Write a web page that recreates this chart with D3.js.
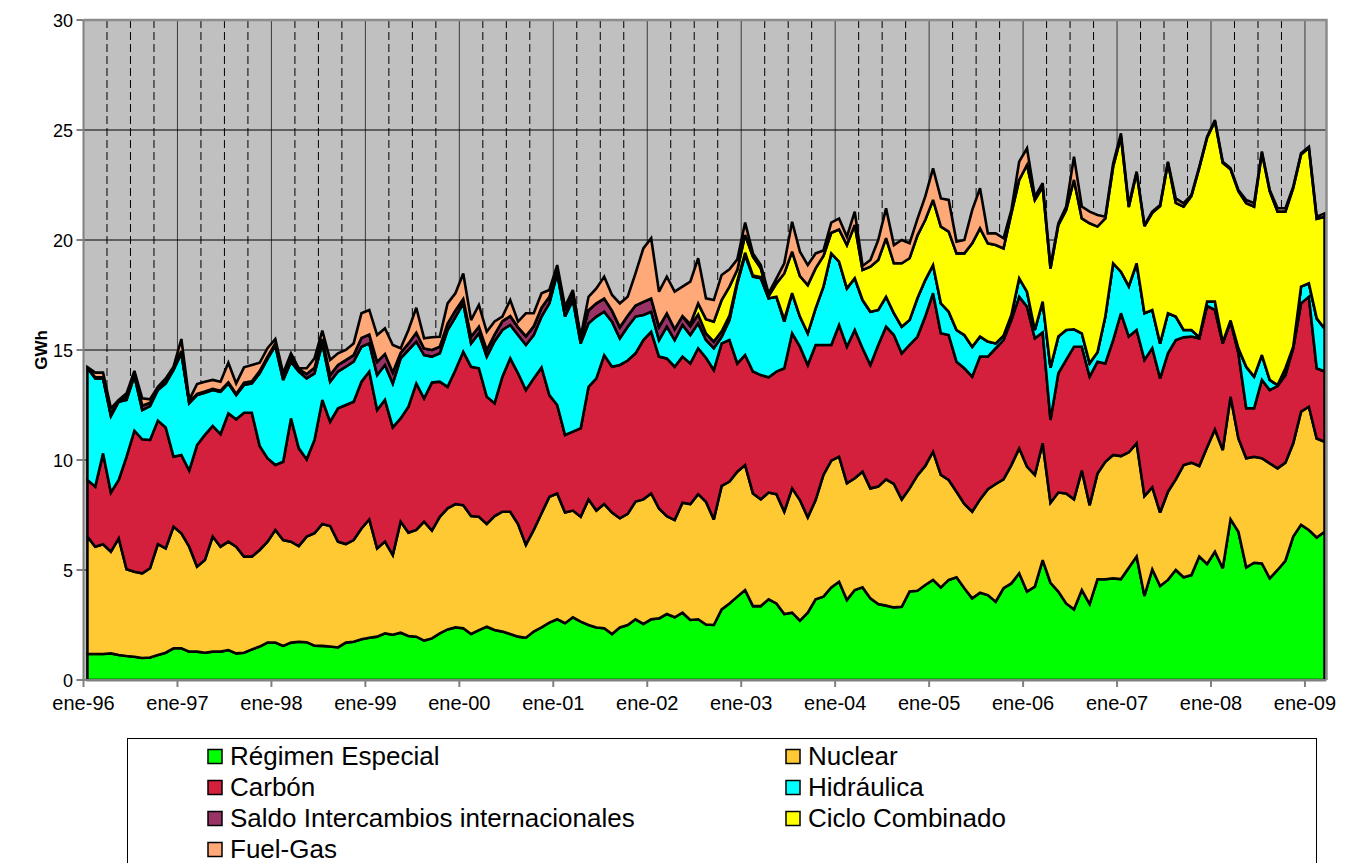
<!DOCTYPE html>
<html><head><meta charset="utf-8">
<script src="https://cdn.jsdelivr.net/npm/d3@7"></script>
<style>
body{margin:0;background:#fff}
svg{display:block}
text{font-family:"Liberation Sans",Arial,sans-serif;fill:#000}
</style>
</head><body>
<svg id="c" width="1345" height="863"></svg>
<script>
// ---------------- DATA (GWh, monthly Jan-1996 .. Mar-2009) ----------------
const tickLabels=["ene-96","ene-97","ene-98","ene-99","ene-00","ene-01","ene-02","ene-03","ene-04","ene-05","ene-06","ene-07","ene-08","ene-09"];
const yTicks=[0,5,10,15,20,25,30];
const seriesNames=["Régimen Especial","Nuclear","Carbón","Hidráulica","Saldo Intercambios internacionales","Ciclo Combinado","Fuel-Gas"];
const seriesColors=["#00ff00","#ffc933","#d41f3d","#00ffff","#993366","#ffff00","#ffa878"];

const regimenEspecial=[1.18,1.18,1.18,1.21,1.14,1.09,1.06,1.0,1.02,1.14,1.24,1.44,1.44,
1.29,1.29,1.24,1.29,1.29,1.36,1.21,1.24,1.39,1.52,1.7,1.7,1.55,
1.7,1.74,1.72,1.56,1.55,1.52,1.48,1.7,1.74,1.85,1.92,1.97,2.12,2.06,2.15,2.0,1.97,1.79,1.89,2.12,2.3,2.39,2.35,2.09,2.27,2.42,2.27,
2.2,2.09,1.97,1.92,2.2,2.39,2.61,2.76,2.58,2.85,2.65,2.5,2.39,2.35,2.09,2.39,2.5,2.76,2.55,2.76,2.8,3.0,2.85,3.06,2.73,2.76,2.52,
2.5,3.21,3.48,3.79,4.09,3.36,3.36,3.67,3.48,3.0,3.06,2.7,3.06,3.67,3.79,4.21,4.47,3.64,4.09,4.21,3.71,3.45,3.38,3.3,3.33,4.02,
4.06,4.32,4.55,4.21,4.55,4.67,4.17,3.71,3.97,3.86,3.56,4.17,4.39,4.85,4.02,4.24,5.45,4.42,4.02,3.48,3.21,4.09,3.45,4.58,4.58,4.62,4.59,
5.1,5.61,3.82,5.03,4.27,4.55,5.0,4.67,4.77,5.61,5.27,5.83,5.08,7.3,6.74,5.12,5.33,5.3,4.62,5.0,5.42,6.52,7.05,6.82,6.48,6.74];

const nuclear=[5.34,4.88,4.99,4.62,5.3,3.94,3.86,3.85,4.06,5.04,4.74,5.53,5.23,
4.77,3.86,4.21,5.23,4.77,4.93,4.85,4.37,4.22,4.39,4.59,5.12,4.81,
4.59,4.35,4.8,5.11,5.54,5.48,4.81,4.48,4.62,5.04,5.38,4.01,4.17,3.62,5.05,4.7,4.85,5.41,4.9,5.3,5.5,5.61,5.6,5.36,5.15,4.67,5.18,
5.45,5.56,5.12,4.22,4.62,5.19,5.72,5.72,5.03,4.85,4.77,5.71,5.31,5.65,5.52,4.96,5.05,5.35,5.66,5.72,5.0,4.45,4.42,5.0,5.27,5.69,5.58,
4.8,5.61,5.54,5.68,5.68,5.12,4.85,4.85,4.97,4.65,5.65,5.48,4.33,4.51,5.53,5.76,5.68,5.3,5.08,5.26,5.0,5.34,5.74,5.61,4.88,4.69,
5.24,5.41,5.83,5.11,4.54,3.89,3.83,3.94,4.24,4.81,5.35,4.95,5.38,5.68,5.68,5.08,5.31,3.64,4.5,5.0,5.0,5.43,4.5,4.81,5.34,5.61,5.59,
5.25,5.15,4.54,3.73,3.34,4.01,4.12,5.1,5.11,4.12,5.31,5.56,5.37,5.58,4.24,4.96,4.82,4.78,5.23,4.62,4.46,4.24,5.15,5.6,4.5,4.09];

const carbon=[2.57,2.73,4.13,2.69,2.65,5.12,6.41,6.09,5.83,5.61,5.5,3.18,3.56,
3.46,5.53,5.69,5.03,5.12,5.83,5.79,6.54,6.54,4.73,3.79,2.95,3.56,
5.6,4.44,3.51,4.24,5.64,4.74,6.06,6.32,6.29,6.67,6.72,6.29,6.44,5.8,4.69,5.72,6.66,5.6,6.73,6.14,5.53,6.09,6.97,6.79,6.75,5.79,5.13,
6.14,6.97,6.85,7.04,6.89,6.63,4.62,4.02,3.53,3.59,4.02,5.12,6.01,6.77,6.63,6.97,6.97,6.74,7.24,7.35,6.9,7.17,6.97,6.64,6.39,6.63,6.55,
6.79,6.48,6.43,4.92,5.0,5.54,5.65,5.24,5.57,6.52,7.05,6.97,6.93,7.05,5.91,5.26,5.99,6.21,6.74,5.61,5.61,6.44,6.94,6.77,6.64,6.52,
6.3,6.79,7.2,6.44,6.59,5.91,6.17,6.14,6.49,6.03,6.17,6.33,6.59,6.89,7.27,6.21,5.04,3.76,5.42,6.07,6.94,5.63,5.84,5.08,4.47,5.22,6.49,
5.26,5.15,6.19,6.32,6.1,6.29,6.33,5.81,5.73,5.8,6.42,5.43,4.85,3.41,3.87,2.27,2.2,3.56,3.33,3.74,3.98,4.32,4.92,5.0,3.19,3.19];

const hidraulica=[5.1,4.92,3.41,3.48,3.56,2.58,2.49,1.33,1.54,1.39,2.0,3.94,4.62,
3.06,2.27,1.92,1.63,1.92,1.36,1.1,1.26,1.33,3.3,4.52,5.43,3.72,
2.58,3.49,3.68,3.03,2.57,1.82,1.67,1.74,1.82,1.59,1.28,1.59,1.59,2.0,2.73,2.58,1.9,1.97,1.18,1.29,2.57,2.41,2.2,1.06,1.59,1.82,2.82,
2.12,1.52,1.74,2.05,1.97,2.31,4.17,5.98,5.38,5.98,3.86,2.88,2.81,1.97,2.05,1.21,1.54,1.67,1.14,0.91,0.75,1.44,1.21,1.44,1.29,1.13,0.8,
0.99,0.3,0.91,3.64,4.55,4.31,4.4,3.59,3.4,2.12,1.82,1.37,1.44,1.66,2.65,4.16,2.88,2.65,2.35,2.19,2.42,1.59,1.36,0.99,1.21,1.13,
1.75,1.66,1.28,1.36,1.06,1.44,1.51,1.36,0.91,0.68,0.22,0.2,0.23,0.84,0.68,0.38,1.4,2.38,1.67,1.36,0.79,0.61,0.61,0.43,2.13,3.49,1.89,
2.29,3.03,2.12,1.74,1.59,1.82,1.07,0.33,0.3,0.05,0.2,0.38,0.05,0.05,0.23,1.89,1.44,1.13,0.46,0.05,0.31,0.07,0.76,0.61,2.27,1.96];

const saldoIntercambios=[0,0.05,0.05,0.1,0.05,0.15,0.15,0.2,0.15,0.1,0.1,0.1,0.1,
0.05,0.05,0.05,0.05,0.05,0.05,0.05,0.1,0.1,0.1,0.1,0.1,0.15,
0.2,0.1,0.2,0.25,0.2,0.3,0.3,0.3,0.3,0.4,0.4,0.6,0.5,0.5,0.25,0.3,0.4,0.3,0.3,0.3,0.3,0.3,0.2,0.3,0.3,0.3,0.3,
0.4,0.4,0.35,0.4,0.4,0.4,0.3,0.2,0.3,0.3,0.2,0.6,0.6,0.6,0.5,0.5,0.5,0.5,0.6,0.6,0.6,0.6,0.5,0.4,0.4,0.4,0.3,
0.3,0.25,0.2,0.1,0.1,0.05,0.05,0,0,0.1,0,0,0,0,0,0,0,0,0,0,0,0,0,0,0,0,
0,0,0,0,0,0,0,0,0,0,0,0,0,0,0,0,0,0,0,0,0,0,0,0,0,0,0,
0,0,0,0,0,0,0,0,0,0,0,0,0,0,0,0,0,0,0,0,0,0,0,0,0,0];

const cicloCombinado=[0,0,0,0,0,0,0,0,0,0,0,0,0,
0,0,0,0,0,0,0,0,0,0,0,0,0,
0,0,0,0,0,0,0,0,0,0,0,0,0,0,0,0,0,0,0,0,0,0,0,0,0,0,0,
0,0,0,0,0,0,0,0,0,0,0,0,0,0,0,0,0,0,0,0,0,0,0,0,0.1,0.5,0.65,
0.91,1.42,1.32,0.51,0.81,0.86,0.4,0.1,0.61,2.09,1.89,1.84,2.19,1.82,1.39,0.94,1.46,1.97,2.42,1.37,2.05,2.27,2.66,2.27,2.88,2.81,
2.85,2.73,2.96,3.49,3.64,3.48,3.71,4.7,4.92,4.47,4.47,3.97,4.62,4.47,5.76,5.91,5.22,4.5,5.07,5.45,6.79,5.22,6.36,5.71,4.46,4.39,6.14,
3.6,4.12,3.96,4.42,6.24,6.84,5.17,5.61,6.09,7.7,7.45,8.2,8.16,6.87,7.14,7.43,7.73,9.2,8.58,7.88,7.12,7.22,6.01,6.16,4.52,5.08];

const fuelGas=[0.03,0.21,0.21,0.25,0.03,0.15,0.08,0.33,0.16,0.05,0.13,0.05,0.55,
0.1,0.45,0.45,0.41,0.41,0.89,0.48,0.7,0.74,0.38,0.38,0.2,0.15,
0.18,0.05,0.26,0.43,0.38,0.69,0.53,0.46,0.53,1.12,1.12,1.22,1.16,1.25,0.21,0.61,1.14,0.46,0.58,0.45,0.92,0.78,1.16,0.76,0.99,0.83,0.6,
0.21,0.73,0.26,1.04,0.59,0.66,0.31,0.18,0.15,0.16,0.1,0.61,0.68,0.99,0.71,1.09,0.86,1.46,2.43,2.74,1.6,1.67,1.7,1.34,1.93,2.06,0.95,
0.98,1.14,0.79,0.48,0.56,0.15,0.15,0.13,0.23,0.46,1.36,1.11,0.91,0.68,0.25,0.46,0.5,0.38,0.61,0.18,0.3,0.91,1.36,0.83,1.06,0.68,
0.75,1.06,1.44,1.28,1.44,0.53,0.61,1.51,1.82,0.45,0.53,0.46,0.15,0.83,0.76,0.15,0.16,0.09,0.08,0.16,1.06,0.54,0.53,0.53,0.08,0.15,0.15,
0.1,0.05,0.05,0.05,0.05,0.05,0.2,0.15,0.05,0.05,0.05,0.05,0.05,0.05,0.05,0.15,0.15,0.05,0.05,0.15,0.15,0.05,0.05,0.05,0.1,0.15];

// ---------------- CHART ----------------
const seriesData=[regimenEspecial,nuclear,carbon,hidraulica,saldoIntercambios,cicloCombinado,fuelGas];
const keys=seriesNames;
const nPts=regimenEspecial.length;
const table=d3.range(nPts).map(i=>{const o={i};keys.forEach((k,j)=>o[k]=seriesData[j][i]);return o;});

const L=83.5,R=1326.5,T=20,B=680;
const x=d3.scaleLinear().domain([0,158.75]).range([L,R]);
const y=d3.scaleLinear().domain([0,30]).range([B,T]);
const svg=d3.select("#c");

// plot background
svg.append("rect").attr("x",L).attr("y",T).attr("width",R-L).attr("height",B-T).attr("fill","#c0c0c0");

// vertical grid (quarterly dashed, yearly solid)
const g=svg.append("g");
for(let m=3;m<=156;m+=3){
  const major=m%12===0;
  g.append("line").attr("x1",x(m)).attr("x2",x(m)).attr("y1",T).attr("y2",B)
   .attr("stroke",major?"#3a3a3a":"#000").attr("stroke-width",1)
   .attr("stroke-dasharray",major?null:"8,4");
}
// horizontal grid
yTicks.filter(v=>v>0&&v<30).forEach(v=>{
  g.append("line").attr("x1",L).attr("x2",R).attr("y1",y(v)).attr("y2",y(v))
   .attr("stroke","#000").attr("stroke-width",1);
});

// stacked areas
const stack=d3.stack().keys(keys).order(d3.stackOrderNone).offset(d3.stackOffsetNone);
const layers=stack(table);
const area=d3.area().x(d=>x(d.data.i+0.5)).y0(d=>y(d[0])).y1(d=>y(d[1]));
svg.append("g").selectAll("path").data(layers).join("path")
  .attr("d",area).attr("fill",(d,i)=>seriesColors[i])
  .attr("stroke","#000").attr("stroke-width",2.6).attr("stroke-linejoin","miter").attr("stroke-miterlimit",3);

// frame
svg.append("path").attr("d",`M${L},${T}H${R}V${B}`).attr("fill","none").attr("stroke","#8c8c8c").attr("stroke-width",2.5);

// axes
const ax=svg.append("g");
ax.append("line").attr("x1",L).attr("x2",R).attr("y1",B).attr("y2",B).attr("stroke","#808080").attr("stroke-width",2);
ax.append("line").attr("x1",L).attr("x2",L).attr("y1",T).attr("y2",B).attr("stroke","#808080").attr("stroke-width",2);
tickLabels.forEach((lab,k)=>{
  const xx=x(k*12);
  ax.append("line").attr("x1",xx).attr("x2",xx).attr("y1",B).attr("y2",B+7).attr("stroke","#808080").attr("stroke-width",2);
  ax.append("text").attr("x",xx).attr("y",710).attr("text-anchor","middle").attr("font-size",20).text(lab);
});
yTicks.forEach(v=>{
  ax.append("line").attr("x1",L-7).attr("x2",L).attr("y1",y(v)).attr("y2",y(v)).attr("stroke","#808080").attr("stroke-width",2);
  ax.append("text").attr("x",73).attr("y",y(v)+6.5).attr("text-anchor","end").attr("font-size",18).text(v);
});
svg.append("text").attr("transform","translate(47,350) rotate(-90)").attr("text-anchor","middle")
  .attr("font-size",17).attr("font-weight","bold").text("GWh");

// legend
const lg=svg.append("g");
lg.append("rect").attr("x",127.5).attr("y",738.5).attr("width",1189).attr("height",140)
  .attr("fill","#fff").attr("stroke","#000").attr("stroke-width",1);
const legPos=[[0,0],[1,0],[0,1],[1,1],[0,2],[1,2],[0,3]];
keys.forEach((k,i)=>{
  const cx=legPos[i][0]?786:208, cy=756.5+legPos[i][1]*31;
  lg.append("rect").attr("x",cx).attr("y",cy-7).attr("width",14).attr("height",14)
    .attr("fill",seriesColors[i]).attr("stroke","#000").attr("stroke-width",1.5);
  lg.append("text").attr("x",cx+22).attr("y",cy+8.5).attr("font-size",26).text(k);
});
</script>
</body></html>
